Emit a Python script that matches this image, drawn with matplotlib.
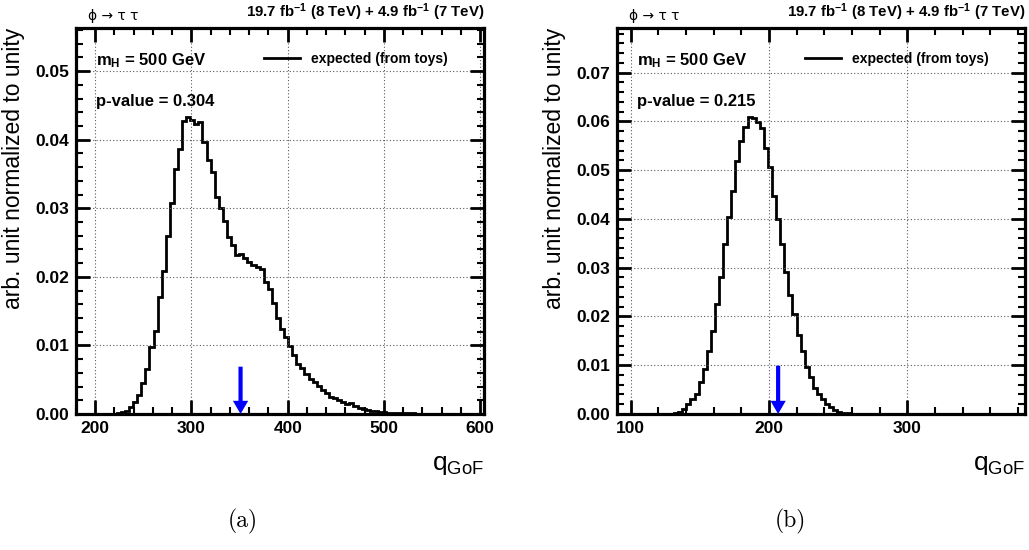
import numpy as np
import matplotlib
matplotlib.use("Agg")
import matplotlib.pyplot as plt
from matplotlib.lines import Line2D
from matplotlib.ticker import MultipleLocator, FormatStrFormatter

plt.rcParams['font.family'] = ['Liberation Sans', 'DejaVu Sans']
plt.rcParams['mathtext.fontset'] = 'custom'
plt.rcParams['mathtext.rm'] = 'Liberation Sans'
plt.rcParams['mathtext.bf'] = 'Liberation Sans:bold'
plt.rcParams['mathtext.it'] = 'Liberation Sans:italic'

# (a) toy distribution, 100 bins from 180 to 604
range_a = (180, 604)
toys_a = [0, 0, 0, 0, 0, 0, 0, 0, 0, 0.00005,
          0.0001, 0.0003, 0.0005, 0.0010, 0.0017, 0.0027, 0.0045, 0.0066, 0.0098, 0.0121,
          0.0171, 0.0209, 0.0259, 0.0307, 0.0357, 0.0386, 0.0428, 0.0433, 0.0429, 0.0423,
          0.0426, 0.0396, 0.0371, 0.0353, 0.0317, 0.0300, 0.0281, 0.0258, 0.0247, 0.0232,
          0.0234, 0.0227, 0.0221, 0.0217, 0.0215, 0.0211, 0.0192, 0.0182, 0.0162, 0.0140,
          0.0124, 0.0113, 0.0099, 0.0086, 0.0073, 0.0067, 0.0059, 0.0051, 0.0046, 0.0041,
          0.0035, 0.0031, 0.0025, 0.0024, 0.0021, 0.0018, 0.0015, 0.0016, 0.0012, 0.0009,
          0.0007, 0.0006, 0.0004, 0.0004, 0.0003, 0.0003, 0.0002, 0.0002, 0.00015, 0.0001,
          0.0001, 0.0001, 0.00008, 0.00005, 0.00005, 0.00005, 0.00003, 0.00003, 0, 0,
          0, 0, 0, 0, 0, 0, 0, 0, 0, 0]
obs_a = 351
arrow_a = 0.0069
pval_a = "0.304"

# (b) toy distribution, 100 bins from 90 to 385
range_b = (90, 385)
toys_b = [0, 0, 0, 0, 0, 0, 0, 0, 0, 0,
          0, 0, 0.00003, 0.0001, 0.0002, 0.0005, 0.0010, 0.0020, 0.0030, 0.0042,
          0.0066, 0.0093, 0.0130, 0.0170, 0.0226, 0.0280, 0.0349, 0.0405, 0.0457, 0.0519,
          0.0560, 0.0589, 0.0609, 0.0608, 0.0598, 0.0586, 0.0545, 0.0506, 0.0448, 0.0400,
          0.0348, 0.0292, 0.0245, 0.0205, 0.0162, 0.0130, 0.0097, 0.0075, 0.0054, 0.0040,
          0.0030, 0.0021, 0.0015, 0.0009, 0.0005, 0.0003, 0.00015, 0.0001, 0.00005, 0,
          0, 0, 0, 0, 0, 0, 0, 0, 0, 0,
          0, 0, 0, 0, 0, 0, 0, 0, 0, 0,
          0, 0, 0, 0, 0, 0, 0, 0, 0, 0,
          0, 0, 0, 0, 0, 0, 0, 0, 0, 0]
obs_b = 206.5
arrow_b = 0.0099
pval_b = "0.215"


def draw_panel(ax, xr, vals, obs, arrow_top, pval):
    vals = np.array(vals)
    edges = np.linspace(xr[0], xr[1], len(vals) + 1)
    ax.stairs(vals, edges, color='black', lw=2)
    ymax = 1.3 * vals.max()
    ax.set_xlim(xr)
    ax.set_ylim(0, ymax)

    ax.annotate('', xy=(obs, 0), xytext=(obs, arrow_top),
                arrowprops=dict(arrowstyle='simple,head_length=0.95,head_width=1.1,tail_width=0.3',
                                color='blue', lw=0, shrinkA=0, shrinkB=0, mutation_scale=10))

    ax.xaxis.set_major_locator(MultipleLocator(100))
    ax.xaxis.set_minor_locator(MultipleLocator(20))
    ax.yaxis.set_major_locator(MultipleLocator(0.01))
    ax.yaxis.set_minor_locator(MultipleLocator(0.002))
    ax.yaxis.set_major_formatter(FormatStrFormatter('%.2f'))
    ax.tick_params(which='both', direction='in', top=True, right=True)
    ax.tick_params(which='major', length=10, width=2, labelsize=12.5, pad=5)
    ax.tick_params(which='minor', length=5, width=1.5)
    for lab in ax.get_xticklabels() + ax.get_yticklabels():
        lab.set_fontweight('bold')
    for sp in ax.spines.values():
        sp.set_linewidth(2.3)
    ax.grid(True, which='major', color='0.35', lw=0.8, linestyle=(0, (1, 2)))

    ax.set_ylabel('arb. unit normalized to unity', fontsize=16.5, loc='top')
    ax.yaxis.set_label_coords(-0.125, 1.0)
    ax.set_xlabel(r'$\mathrm{q}_{\mathrm{GoF}}$', fontsize=19, loc='right')
    ax.xaxis.set_label_coords(1.0, -0.1)

    ax.text(0.05, 0.915, r'$\mathbf{m}_{\mathbf{H}}$ = 500 GeV', transform=ax.transAxes,
            fontsize=12, fontweight='bold', va='center')
    ax.text(0.05, 0.81, 'p-value = ' + pval, transform=ax.transAxes,
            fontsize=12, fontweight='bold', va='center')
    ax.text(0.03, 1.012, 'ϕ → τ τ', transform=ax.transAxes, fontsize=10,
            family=['DejaVu Sans'], va='bottom')
    ax.text(1.0, 1.012, r'19.7 fb$^{\mathbf{-1}}$ (8 TeV) + 4.9 fb$^{\mathbf{-1}}$ (7 TeV)',
            transform=ax.transAxes, fontsize=10.8, fontweight='bold', ha='right', va='bottom')
    h = Line2D([], [], color='black', lw=2)
    ax.legend([h], ['expected (from toys)'], loc='center left', bbox_to_anchor=(0.43, 0.92),
              frameon=False, handlelength=2.6, prop={'weight': 'bold', 'size': 10})


fig = plt.figure(figsize=(10.29, 5.5), dpi=100)
ax_a = fig.add_axes([76 / 1029, 1 - 414 / 550, 408 / 1029, 386 / 550])
ax_b = fig.add_axes([617 / 1029, 1 - 414 / 550, 408 / 1029, 386 / 550])

draw_panel(ax_a, range_a, toys_a, obs_a, arrow_a, pval_a)
draw_panel(ax_b, range_b, toys_b, obs_b, arrow_b, pval_b)

fig.text(243 / 1029, 1 - 521 / 550, '(a)', fontsize=17, family='cmr10', ha='center', va='center')
fig.text(790 / 1029, 1 - 521 / 550, '(b)', fontsize=17, family='cmr10', ha='center', va='center')

fig.savefig('out.png', dpi=100)
